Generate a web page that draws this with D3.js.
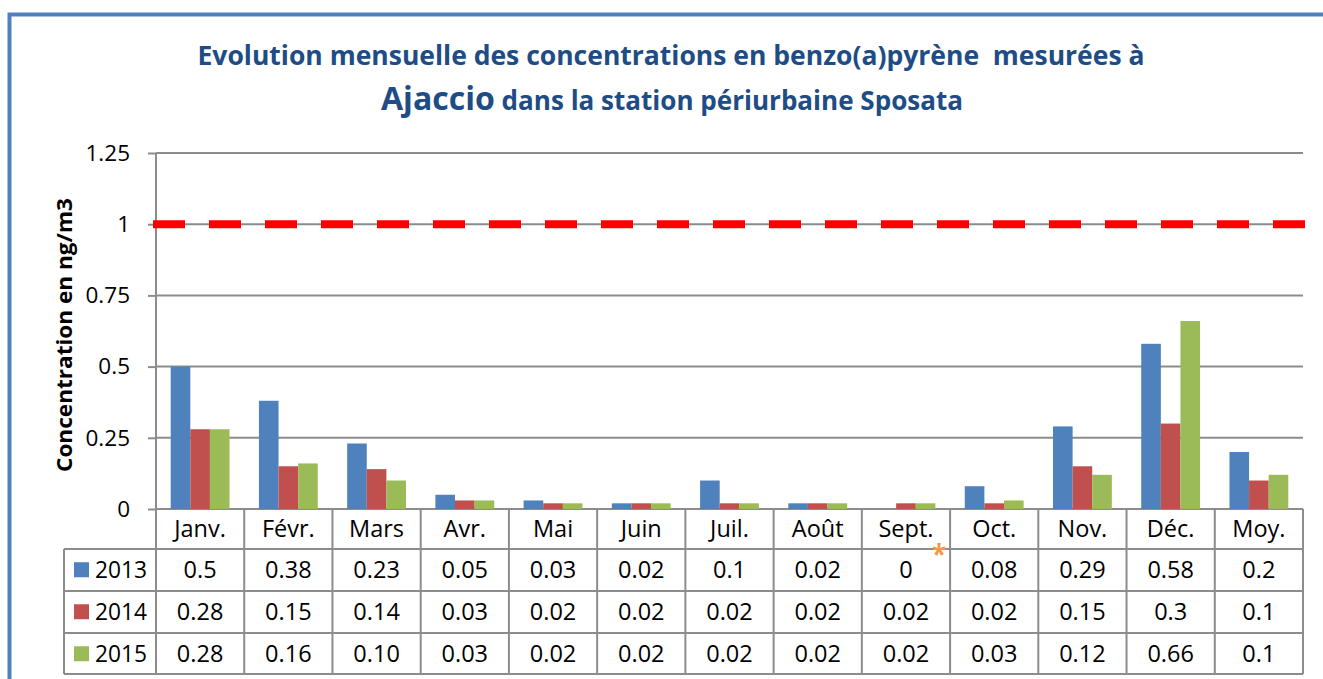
<!DOCTYPE html>
<html>
<head>
<meta charset="utf-8">
<script src="https://cdn.jsdelivr.net/npm/d3@7"></script>
<style>
  body { margin: 0; background: #fff; }
  text { font-family: "Open Sans", sans-serif; }
</style>
</head>
<body>
<script>
// Data
const categories = ["Janv.", "Févr.", "Mars", "Avr.", "Mai", "Juin", "Juil.", "Août", "Sept.", "Oct.", "Nov.", "Déc.", "Moy."];
const seriesNames = ["2013", "2014", "2015"];
const colors = ["#4F81BD", "#C0504D", "#9BBB59"];

const values2013 = [0.5, 0.38, 0.23, 0.05, 0.03, 0.02, 0.1, 0.02, 0, 0.08, 0.29, 0.58, 0.2];
const values2014 = [0.28, 0.15, 0.14, 0.03, 0.02, 0.02, 0.02, 0.02, 0.02, 0.02, 0.15, 0.3, 0.1];
const values2015 = [0.28, 0.16, 0.10, 0.03, 0.02, 0.02, 0.02, 0.02, 0.02, 0.03, 0.12, 0.66, 0.12];

// Table labels, as printed under the chart
const labels2013 = ["0.5", "0.38", "0.23", "0.05", "0.03", "0.02", "0.1", "0.02", "0", "0.08", "0.29", "0.58", "0.2"];
const labels2014 = ["0.28", "0.15", "0.14", "0.03", "0.02", "0.02", "0.02", "0.02", "0.02", "0.02", "0.15", "0.3", "0.1"];
const labels2015 = ["0.28", "0.16", "0.10", "0.03", "0.02", "0.02", "0.02", "0.02", "0.02", "0.03", "0.12", "0.66", "0.1"];

const yTicks = [0, 0.25, 0.5, 0.75, 1, 1.25];
const limitValue = 1;

const series = [values2013, values2014, values2015];
const labels = [labels2013, labels2014, labels2015];

const W = 1323, H = 679;
const gridColor = "#8c8c8c";
const titleColor = "#204C85";
const fs = 23.5;

const svg = d3.select("body").append("svg")
  .attr("width", W)
  .attr("height", H);

// Outer frame
svg.append("rect")
  .attr("x", 9.5).attr("y", 14.5)
  .attr("width", 1340).attr("height", 700)
  .attr("fill", "none")
  .attr("stroke", "#4F81BD")
  .attr("stroke-width", 4);

// Title
svg.append("text")
  .attr("x", 671).attr("y", 65)
  .attr("text-anchor", "middle")
  .attr("xml:space", "preserve")
  .style("white-space", "pre")
  .attr("font-size", 26).attr("font-weight", "bold")
  .attr("fill", titleColor)
  .attr("textLength", 947).attr("lengthAdjust", "spacingAndGlyphs")
  .text("Evolution mensuelle des concentrations en benzo(a)pyrène  mesurées à");

let t2 = svg.append("text")
  .attr("x", 672).attr("y", 110)
  .attr("text-anchor", "middle")
  .attr("font-weight", "bold")
  .attr("fill", titleColor)
  .attr("textLength", 582).attr("lengthAdjust", "spacingAndGlyphs");
t2.append("tspan").attr("font-size", 32).text("Ajaccio");
t2.append("tspan").attr("font-size", 26).text(" dans la station périurbaine Sposata");

// Scales
const x = d3.scaleBand()
  .domain(categories)
  .range([156, 1303]);

const xs = d3.scaleBand()
  .domain(seriesNames)
  .range([0, x.bandwidth()])
  .paddingOuter(0.75);

const y = d3.scaleLinear()
  .domain([0, 1.25])
  .range([509, 153]);

// Gridlines
svg.append("g")
  .selectAll("line")
  .data(yTicks)
  .join("line")
  .attr("x1", 156).attr("x2", 1303)
  .attr("y1", d => y(d)).attr("y2", d => y(d))
  .attr("stroke", gridColor)
  .attr("stroke-width", 2);

// Y axis
let yAxis = svg.append("g")
  .attr("transform", "translate(156,0)")
  .call(d3.axisLeft(y)
    .tickValues(yTicks)
    .tickSize(8)
    .tickPadding(18)
    .tickFormat(d => String(d)));
yAxis.select(".domain").attr("stroke", gridColor).attr("stroke-width", 2)
  .attr("d", "M0," + y(1.25) + "V" + y(0));
yAxis.selectAll(".tick line").attr("stroke", gridColor).attr("stroke-width", 2);
yAxis.selectAll(".tick text")
  .attr("font-size", 22.5)
  .attr("font-family", "Open Sans, sans-serif")
  .attr("fill", "#000");

svg.append("text")
  .attr("transform", "translate(72,335) rotate(-90)")
  .attr("text-anchor", "middle")
  .attr("font-size", 21).attr("font-weight", "bold")
  .attr("textLength", 274).attr("lengthAdjust", "spacingAndGlyphs")
  .text("Concentration en ng/m3");

// Bars
svg.append("g")
  .selectAll("g")
  .data(series)
  .join("g")
  .attr("fill", (d, i) => colors[i])
  .each(function(vals, i) {
    d3.select(this).selectAll("rect")
      .data(vals.map((v, j) => ({ cat: categories[j], v: v })))
      .join("rect")
      .attr("x", d => x(d.cat) + xs(seriesNames[i]))
      .attr("width", xs.bandwidth())
      .attr("y", d => y(d.v))
      .attr("height", d => y(0) - y(d.v));
  });

// Limit line
svg.append("line")
  .attr("x1", 153).attr("x2", 1305)
  .attr("y1", y(limitValue)).attr("y2", y(limitValue))
  .attr("stroke", "#FF0000")
  .attr("stroke-width", 8)
  .attr("stroke-dasharray", "32 24");

// Data table
const rowTop = [549, 591, 633];
const rowH = 41.5;
const tableBottom = 674;
const legendLeft = 64;

let tbl = svg.append("g").attr("stroke", gridColor).attr("stroke-width", 2);

// vertical separators of category columns
tbl.selectAll("line.v")
  .data(categories.map(c => x(c)).concat([1303]))
  .join("line")
  .attr("class", "v")
  .attr("x1", d => d).attr("x2", d => d)
  .attr("y1", y(0)).attr("y2", tableBottom);

tbl.append("line")
  .attr("x1", legendLeft).attr("x2", legendLeft)
  .attr("y1", rowTop[0]).attr("y2", tableBottom);

tbl.selectAll("line.h")
  .data(rowTop.concat([tableBottom]))
  .join("line")
  .attr("class", "h")
  .attr("x1", legendLeft).attr("x2", 1303)
  .attr("y1", d => d).attr("y2", d => d);

// category labels
svg.append("g")
  .selectAll("text")
  .data(categories)
  .join("text")
  .attr("x", d => x(d) + x.bandwidth() / 2)
  .attr("y", 537)
  .attr("text-anchor", "middle")
  .attr("font-size", fs)
  .text(d => d);

// rows
seriesNames.forEach(function(name, i) {
  let g = svg.append("g");
  let base = rowTop[i] + 29;

  g.append("rect")
    .attr("x", 74).attr("y", rowTop[i] + rowH / 2 - 7.5)
    .attr("width", 15).attr("height", 15)
    .attr("fill", colors[i]);

  g.append("text")
    .attr("x", 95).attr("y", base)
    .attr("font-size", fs)
    .attr("textLength", 52).attr("lengthAdjust", "spacingAndGlyphs")
    .text(name);

  g.selectAll("text.val")
    .data(labels[i])
    .join("text")
    .attr("class", "val")
    .attr("x", (d, j) => x(categories[j]) + x.bandwidth() / 2)
    .attr("y", base)
    .attr("text-anchor", "middle")
    .attr("font-size", fs)
    .text(d => d);
});

// asterisk note on September
svg.append("text")
  .attr("x", x("Sept.") + x.bandwidth() - 11)
  .attr("y", 564)
  .attr("text-anchor", "middle")
  .attr("font-size", 26).attr("font-weight", "bold")
  .attr("fill", "#F79646")
  .text("*");
</script>
</body>
</html>
